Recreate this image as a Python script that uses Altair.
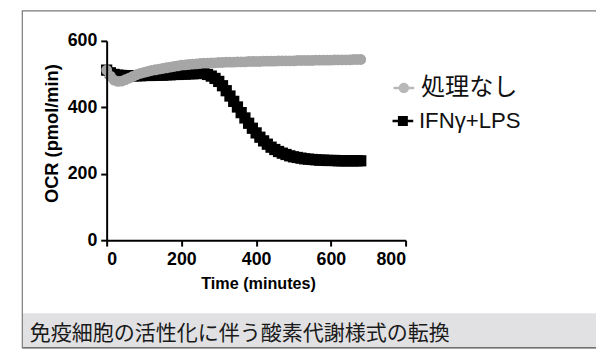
import altair as alt
import pandas as pd

# ---- data ----
time_min = [0, 10, 20, 30, 40, 50, 60, 70, 80, 90,
            100, 110, 120, 130, 140, 150, 160, 170, 180, 190,
            200, 210, 220, 230, 240, 250, 260, 270, 280, 290,
            300, 310, 320, 330, 340, 350, 360, 370, 380, 390,
            400, 410, 420, 430, 440, 450, 460, 470, 480, 490,
            500, 510, 520, 530, 540, 550, 560, 570, 580, 590,
            600, 610, 620, 630, 640, 650, 660, 670, 680]

untreated = [512, 494, 482, 478, 479, 483, 488, 493, 498, 502,
             505, 508, 511, 513, 515, 517, 519, 521, 523, 525,
             527, 528, 529, 530, 531, 532, 533, 533, 534, 534,
             535, 535, 536, 536, 536, 537, 537, 537, 538, 538,
             538, 538, 539, 539, 539, 539, 540, 540, 540, 540,
             540, 541, 541, 541, 541, 541, 542, 542, 542, 542,
             542, 543, 543, 543, 543, 543, 544, 544, 544]

ifn_lps = [512, 504, 499, 497, 496, 495, 495, 495, 495, 495,
           496, 496, 496, 497, 497, 497, 498, 498, 499, 499,
           500, 500, 501, 501, 502, 502, 502, 499, 494, 487,
           478, 465, 450, 434, 418, 401, 384, 368, 352, 337,
           323, 310, 299, 289, 280, 273, 267, 262, 258, 254,
           251, 249, 247, 245, 244, 243, 242, 241, 241, 240,
           240, 240, 239, 239, 239, 239, 239, 239, 239]

series_names = ["処理なし", "IFNγ+LPS"]
series_colors = ["#a6a6a6", "#000000"]
legend_colors = ["#b8b8b8", "#000000"]
x_ticks = [0, 200, 400, 600, 800]
y_ticks = [0, 200, 400, 600]
x_title = "Time (minutes)"
y_title = "OCR (pmol/min)"
caption = "免疫細胞の活性化に伴う酸素代謝様式の転換"

n = len(time_min)
df = pd.DataFrame({
    "time": time_min + time_min,
    "ocr": untreated + ifn_lps,
    "series": [series_names[0]] * n + [series_names[1]] * n,
})

W, H = 303, 202
LATIN = "Liberation Sans"
CJK = "Noto Sans CJK JP"

x_enc = alt.X("time:Q", scale=alt.Scale(domain=[0, 800], nice=False, zero=False),
              axis=alt.Axis(values=x_ticks, title=x_title, labelPadding=5, zindex=1,
                            titleFontSize=16.4, titleX=153.5, titleY=49,
                            titleBaseline="alphabetic"))
y_enc = alt.Y("ocr:Q", scale=alt.Scale(domain=[0, 600], nice=False),
              axis=alt.Axis(values=y_ticks, title=y_title, labelPadding=4, zindex=1,
                            titleFontSize=18.5, titleX=-50, titleY=93.5,
                            titleAngle=270, titleBaseline="alphabetic"))

base = alt.Chart(df)
black_pts = base.transform_filter(alt.datum.series == series_names[1]).mark_point(
    shape="square", filled=True, size=130, opacity=1, color=series_colors[1]
).encode(x=x_enc, y=y_enc)
gray_pts = base.transform_filter(alt.datum.series == series_names[0]).mark_point(
    shape="circle", filled=True, size=121, opacity=1, color=series_colors[0]
).encode(x=x_enc, y=y_enc)

one = alt.Data(values=[{}])
frame_box = alt.Chart(one).mark_rect(fillOpacity=0, stroke="#7a7a7a", strokeWidth=1.2).encode(
    x=alt.value(-85.5), x2=alt.value(520), y=alt.value(-30.5), y2=alt.value(311))
caption_bar = alt.Chart(one).mark_rect(fill="#e1e1e3").encode(
    x=alt.value(-85.5), x2=alt.value(520), y=alt.value(276), y2=alt.value(311))
bottom_line = alt.Chart(one).mark_rule(color="#666666", strokeWidth=1.5).encode(
    x=alt.value(-85.5), x2=alt.value(520), y=alt.value(311))
caption_text = alt.Chart(alt.Data(values=[{"t": caption}])).mark_text(
    align="left", baseline="alphabetic", font=CJK, fontSize=21.3, color="#1a1a1a"
).encode(text="t:N", x=alt.value(-78), y=alt.value(303))

circ_path = ("M-1,-0.12H-0.45V0.12H-1Z M0.45,-0.12H1V0.12H0.45Z "
             "M-0.5,0A0.5,0.5 0 1,1 0.5,0A0.5,0.5 0 1,1 -0.5,0Z")
sq_path = ("M-1,-0.12H-0.45V0.12H-1Z M0.45,-0.12H1V0.12H0.45Z "
           "M-0.48,-0.48H0.48V0.48H-0.48Z")

common_leg = dict(title=None, orient="none", legendX=289, symbolSize=441,
                  symbolStrokeWidth=0, symbolOpacity=1, labelOffset=5,
                  padding=0, labelLimit=300, labelColor="#111111")

# legend 1: untreated (Japanese label, CJK font)
leg1 = alt.Legend(legendY=35.5, labelFontSize=24.5, labelFont=CJK,
                  symbolType=circ_path, **common_leg)
legend_layer1 = alt.Chart(pd.DataFrame({"label_a": [series_names[0]]})).mark_point(
    filled=True, opacity=0
).encode(
    x=alt.value(0), y=alt.value(0),
    color=alt.Color("label_a:N", scale=alt.Scale(domain=[series_names[0]], range=[legend_colors[0]]),
                    legend=leg1),
)

# legend 2: IFNγ+LPS (Latin label)
leg2 = alt.Legend(legendY=70, labelFontSize=22.5, labelFont=LATIN,
                  symbolFillColor=legend_colors[1], **common_leg)
legend_layer2 = alt.Chart(pd.DataFrame({"label_b": [series_names[1]]})).mark_point(
    filled=True, opacity=0, color=legend_colors[1]
).encode(
    x=alt.value(0), y=alt.value(0),
    shape=alt.Shape("label_b:N", scale=alt.Scale(domain=[series_names[1]], range=[sq_path]),
                    legend=leg2),
)

chart = alt.layer(
    caption_bar, bottom_line, frame_box, caption_text, black_pts, gray_pts,
    legend_layer1, legend_layer2
).properties(
    width=W, height=H,
    padding={"left": 100, "top": 31, "right": 193, "bottom": 111},
    autosize=alt.AutoSizeParams(type="none"),
).configure_view(stroke=None).configure_axis(
    grid=False, domainColor="black", domainWidth=2, tickColor="black", tickWidth=2,
    tickSize=6, labelFont=LATIN, labelFontWeight="bold", labelFontSize=18,
    labelColor="black", titleFont=LATIN, titleFontWeight="bold", titleColor="black",
)

chart.save("out.html", embed_options={"renderer": "svg", "actions": False})
